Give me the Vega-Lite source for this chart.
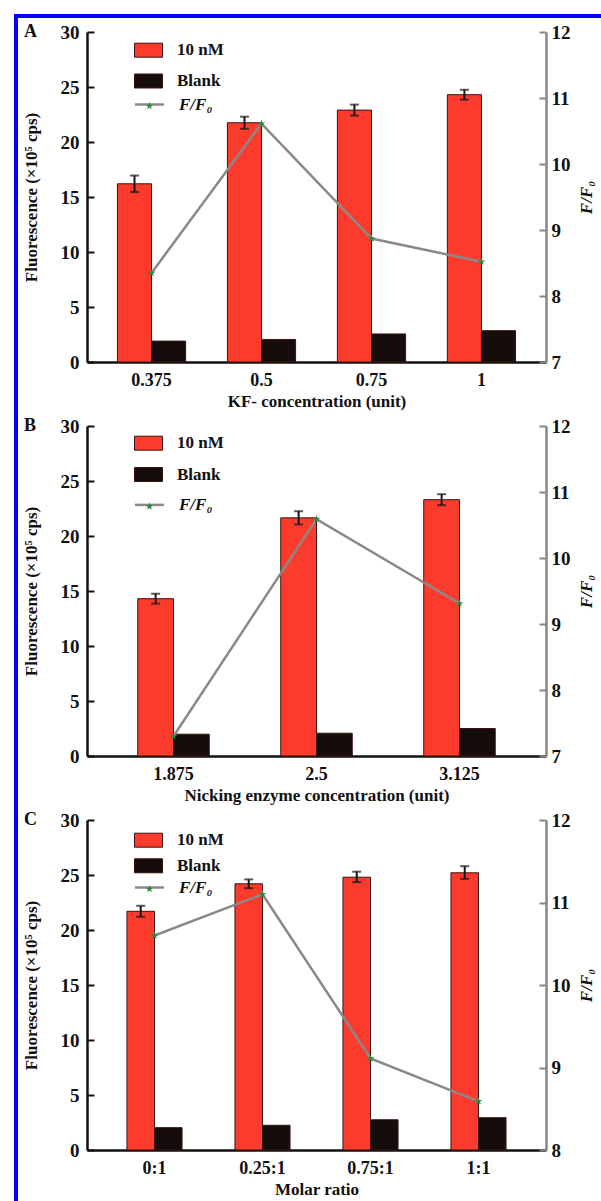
{
"$schema": "https://vega.github.io/schema/vega-lite/v6.json",
"background": "white",
"padding": {"left": 13, "top": 13, "right": 0, "bottom": 0},
"bounds": "flush",
"spacing": 0,
"config": {
 "view": {"stroke": null},
 "font": "Liberation Serif",
 "title": {"font": "Liberation Serif", "fontSize": 18, "fontWeight": "bold", "color": "#111", "anchor": "start", "frame": "group", "dx": -63, "dy": 22, "offset": 0, "baseline": "alphabetic"},
 "axis": {"labelFont": "Liberation Serif", "labelFontSize": 19, "labelFontWeight": "bold", "labelColor": "#111", "titleFont": "Liberation Serif", "titleFontSize": 17, "titleFontWeight": "bold", "titleColor": "#111", "grid": false, "domainWidth": 2.5, "tickWidth": 2, "labelFlush": false},
 "axisLeft": {"domainColor": "#111", "tickColor": "#111", "tickSize": -7, "labelPadding": 15, "titlePadding": 20},
 "axisRight": {"domainColor": "#8a8585", "tickColor": "#8a8585", "tickSize": -7, "labelPadding": 12, "titlePadding": 8},
 "axisBottom": {"domainColor": "#111", "ticks": false, "labelPadding": 9, "titlePadding": 4, "labelFontSize": 18},
 "legend": {"labelFont": "Liberation Serif", "labelFontSize": 17, "labelFontWeight": "bold", "labelColor": "#111", "padding": 0, "orient": "none", "title": null}
},
"vconcat": [
 {"width": 588, "height": 4, "view": {"fill": "#0000fe", "stroke": null}, "mark": {"type": "point", "opacity": 0}, "data": {"values": [{}]}, "encoding": {}},
 {"bounds": "flush", "spacing": 69, "hconcat": [
  {"width": 4, "height": 1184, "view": {"fill": "#0000fe", "stroke": null}, "mark": {"type": "point", "opacity": 0}, "data": {"values": [{}]}, "encoding": {}},
  {"bounds": "flush", "spacing": 13, "vconcat": [
   {"width": 459, "height": 1, "mark": {"type": "point", "opacity": 0}, "data": {"values": [{}]}, "encoding": {}},
   {"bounds": "flush", "spacing": 64,
    "resolve": {"scale": {"x": "independent", "y": "independent", "xOffset": "independent", "fill": "independent", "stroke": "independent", "shape": "independent"}, "legend": {"fill": "independent", "stroke": "independent", "shape": "independent"}},
    "vconcat": [
    {
     "width": 459, "height": 330,
     "title": {"text": "A"},
     "data": {"values": [
      {"cat": "0.375", "series": "10 nM", "value": 16.2, "lo": 15.45, "hi": 16.95},
      {"cat": "0.5", "series": "10 nM", "value": 21.75, "lo": 21.2, "hi": 22.3},
      {"cat": "0.75", "series": "10 nM", "value": 22.9, "lo": 22.4, "hi": 23.4},
      {"cat": "1", "series": "10 nM", "value": 24.3, "lo": 23.85, "hi": 24.75},
      {"cat": "0.375", "series": "Blank", "value": 1.9},
      {"cat": "0.5", "series": "Blank", "value": 2.05},
      {"cat": "0.75", "series": "Blank", "value": 2.55},
      {"cat": "1", "series": "Blank", "value": 2.85}
     ]},
     "encoding": {"x": {"field": "cat", "type": "nominal", "scale": {"domain": ["0.375", "0.5", "0.75", "1"], "paddingInner": 0.38, "paddingOuter": 0.277}, "axis": {"title": "KF- concentration (unit)", "labelAngle": 0}}},
     "layer": [
      {"mark": {"type": "bar", "stroke": "#3a140e", "strokeWidth": 1},
       "encoding": {
        "xOffset": {"field": "series", "type": "nominal", "scale": {"domain": ["10 nM", "Blank"], "paddingInner": 0, "paddingOuter": 0}},
        "y": {"field": "value", "type": "quantitative", "scale": {"domain": [0, 30]}, "axis": {"title": "Fluorescence (×10⁵ cps)", "values": [0, 5, 10, 15, 20, 25, 30]}},
        "fill": {"field": "series", "type": "nominal", "scale": {"domain": ["10 nM", "Blank"], "range": ["#fd3b2d", "#150d0c"]}, "legend": {"legendX": 47, "legendY": 3.7, "symbolType": "M-1,-0.5H1V0.5H-1Z", "symbolSize": 784, "symbolStrokeColor": "#3a140e", "symbolStrokeWidth": 1, "labelOffset": 14, "rowPadding": 6.8, "symbolOpacity": 1}}
       }},
      {"transform": [{"filter": "datum.series === '10 nM'"}], "mark": {"type": "rule", "color": "#151515", "strokeWidth": 2},
       "encoding": {"xOffset": {"field": "series", "type": "nominal", "scale": {"domain": ["10 nM", "Blank"], "paddingInner": 0, "paddingOuter": 0}}, "y": {"field": "lo", "type": "quantitative", "scale": {"domain": [0, 30]}, "axis": null}, "y2": {"field": "hi"}}},
      {"transform": [{"filter": "datum.series === '10 nM'"}], "mark": {"type": "tick", "color": "#151515", "thickness": 2, "size": 9, "orient": "horizontal"},
       "encoding": {"xOffset": {"field": "series", "type": "nominal", "scale": {"domain": ["10 nM", "Blank"], "paddingInner": 0, "paddingOuter": 0}}, "y": {"field": "hi", "type": "quantitative", "scale": {"domain": [0, 30]}, "axis": null}}},
      {"transform": [{"filter": "datum.series === '10 nM'"}], "mark": {"type": "tick", "color": "#151515", "thickness": 2, "size": 9, "orient": "horizontal"},
       "encoding": {"xOffset": {"field": "series", "type": "nominal", "scale": {"domain": ["10 nM", "Blank"], "paddingInner": 0, "paddingOuter": 0}}, "y": {"field": "lo", "type": "quantitative", "scale": {"domain": [0, 30]}, "axis": null}}},
      {"data": {"values": [{"cat": "0.375", "ff": 8.35}, {"cat": "0.5", "ff": 10.61}, {"cat": "0.75", "ff": 8.87}, {"cat": "1", "ff": 8.52}]},
       "mark": {"type": "line", "strokeWidth": 2.5},
       "encoding": {"y": {"field": "ff", "type": "quantitative", "scale": {"domain": [7, 12]}, "axis": {"orient": "right", "title": "F/F₀", "titleAngle": 270, "titleBaseline": "top", "titleFontStyle": "italic", "values": [7, 8, 9, 10, 11, 12]}},
        "stroke": {"datum": "F/F₀", "scale": {"range": ["#8d8888"]}, "legend": {"legendX": 46.5, "legendY": 56.5, "symbolType": "stroke", "symbolSize": 841, "symbolStrokeWidth": 2.5, "labelOffset": 13.5, "labelFontStyle": "italic"}}}},
      {"data": {"values": [{"cat": "0.375", "ff": 8.35}, {"cat": "0.5", "ff": 10.61}, {"cat": "0.75", "ff": 8.87}, {"cat": "1", "ff": 8.52}]},
       "mark": {"type": "point", "filled": true, "fill": "#2a8a3a", "opacity": 1, "strokeWidth": 0, "size": 64},
       "encoding": {"y": {"field": "ff", "type": "quantitative", "scale": {"domain": [7, 12]}, "axis": null},
        "shape": {"datum": "star", "scale": {"range": ["M0,-1L0.235,-0.324L0.951,-0.309L0.38,0.124L0.588,0.809L0,0.4L-0.588,0.809L-0.38,0.124L-0.951,-0.309L-0.235,-0.324Z"]}, "legend": {"legendX": 54, "legendY": 65.5, "symbolSize": 64, "symbolFillColor": "#2a8a3a", "symbolStrokeWidth": 0, "labelExpr": "''"}}}}
     ],
     "resolve": {"scale": {"y": "independent"}}
    },
    {
     "width": 459, "height": 330,
     "title": {"text": "B"},
     "data": {"values": [
      {"cat": "1.875", "series": "10 nM", "value": 14.3, "lo": 13.85, "hi": 14.75},
      {"cat": "2.5", "series": "10 nM", "value": 21.65, "lo": 21.05, "hi": 22.25},
      {"cat": "3.125", "series": "10 nM", "value": 23.3, "lo": 22.8, "hi": 23.8},
      {"cat": "1.875", "series": "Blank", "value": 1.98},
      {"cat": "2.5", "series": "Blank", "value": 2.07},
      {"cat": "3.125", "series": "Blank", "value": 2.5}
     ]},
     "encoding": {"x": {"field": "cat", "type": "nominal", "scale": {"domain": ["1.875", "2.5", "3.125"], "paddingInner": 0.5, "paddingOuter": 0.355}, "axis": {"title": "Nicking enzyme concentration (unit)", "labelAngle": 0}}},
     "layer": [
      {"mark": {"type": "bar", "stroke": "#3a140e", "strokeWidth": 1},
       "encoding": {
        "xOffset": {"field": "series", "type": "nominal", "scale": {"domain": ["10 nM", "Blank"], "paddingInner": 0, "paddingOuter": 0}},
        "y": {"field": "value", "type": "quantitative", "scale": {"domain": [0, 30]}, "axis": {"title": "Fluorescence (×10⁵ cps)", "values": [0, 5, 10, 15, 20, 25, 30]}},
        "fill": {"field": "series", "type": "nominal", "scale": {"domain": ["10 nM", "Blank"], "range": ["#fd3b2d", "#150d0c"]}, "legend": {"legendX": 47, "legendY": 2.7, "symbolType": "M-1,-0.5H1V0.5H-1Z", "symbolSize": 784, "symbolStrokeColor": "#3a140e", "symbolStrokeWidth": 1, "labelOffset": 14, "rowPadding": 7.3, "symbolOpacity": 1}}
       }},
      {"transform": [{"filter": "datum.series === '10 nM'"}], "mark": {"type": "rule", "color": "#151515", "strokeWidth": 2},
       "encoding": {"xOffset": {"field": "series", "type": "nominal", "scale": {"domain": ["10 nM", "Blank"], "paddingInner": 0, "paddingOuter": 0}}, "y": {"field": "lo", "type": "quantitative", "scale": {"domain": [0, 30]}, "axis": null}, "y2": {"field": "hi"}}},
      {"transform": [{"filter": "datum.series === '10 nM'"}], "mark": {"type": "tick", "color": "#151515", "thickness": 2, "size": 9, "orient": "horizontal"},
       "encoding": {"xOffset": {"field": "series", "type": "nominal", "scale": {"domain": ["10 nM", "Blank"], "paddingInner": 0, "paddingOuter": 0}}, "y": {"field": "hi", "type": "quantitative", "scale": {"domain": [0, 30]}, "axis": null}}},
      {"transform": [{"filter": "datum.series === '10 nM'"}], "mark": {"type": "tick", "color": "#151515", "thickness": 2, "size": 9, "orient": "horizontal"},
       "encoding": {"xOffset": {"field": "series", "type": "nominal", "scale": {"domain": ["10 nM", "Blank"], "paddingInner": 0, "paddingOuter": 0}}, "y": {"field": "lo", "type": "quantitative", "scale": {"domain": [0, 30]}, "axis": null}}},
      {"data": {"values": [{"cat": "1.875", "ff": 7.3}, {"cat": "2.5", "ff": 10.59}, {"cat": "3.125", "ff": 9.31}]},
       "mark": {"type": "line", "strokeWidth": 2.5},
       "encoding": {"y": {"field": "ff", "type": "quantitative", "scale": {"domain": [7, 12]}, "axis": {"orient": "right", "title": "F/F₀", "titleAngle": 270, "titleBaseline": "top", "titleFontStyle": "italic", "values": [7, 8, 9, 10, 11, 12]}},
        "stroke": {"datum": "F/F₀", "scale": {"range": ["#8d8888"]}, "legend": {"legendX": 46.5, "legendY": 62.9, "symbolType": "stroke", "symbolSize": 841, "symbolStrokeWidth": 2.5, "labelOffset": 13.5, "labelFontStyle": "italic"}}}},
      {"data": {"values": [{"cat": "1.875", "ff": 7.3}, {"cat": "2.5", "ff": 10.59}, {"cat": "3.125", "ff": 9.31}]},
       "mark": {"type": "point", "filled": true, "fill": "#2a8a3a", "opacity": 1, "strokeWidth": 0, "size": 64},
       "encoding": {"y": {"field": "ff", "type": "quantitative", "scale": {"domain": [7, 12]}, "axis": null},
        "shape": {"datum": "star", "scale": {"range": ["M0,-1L0.235,-0.324L0.951,-0.309L0.38,0.124L0.588,0.809L0,0.4L-0.588,0.809L-0.38,0.124L-0.951,-0.309L-0.235,-0.324Z"]}, "legend": {"legendX": 54, "legendY": 71.9, "symbolSize": 64, "symbolFillColor": "#2a8a3a", "symbolStrokeWidth": 0, "labelExpr": "''"}}}}
     ],
     "resolve": {"scale": {"y": "independent"}}
    },
    {
     "width": 459, "height": 330,
     "title": {"text": "C"},
     "data": {"values": [
      {"cat": "0:1", "series": "10 nM", "value": 21.7, "lo": 21.2, "hi": 22.2},
      {"cat": "0.25:1", "series": "10 nM", "value": 24.2, "lo": 23.8, "hi": 24.6},
      {"cat": "0.75:1", "series": "10 nM", "value": 24.8, "lo": 24.35, "hi": 25.3},
      {"cat": "1:1", "series": "10 nM", "value": 25.2, "lo": 24.65, "hi": 25.8},
      {"cat": "0:1", "series": "Blank", "value": 2.03},
      {"cat": "0.25:1", "series": "Blank", "value": 2.25},
      {"cat": "0.75:1", "series": "Blank", "value": 2.75},
      {"cat": "1:1", "series": "Blank", "value": 2.94}
     ]},
     "encoding": {"x": {"field": "cat", "type": "nominal", "scale": {"domain": ["0:1", "0.25:1", "0.75:1", "1:1"], "paddingInner": 0.49, "paddingOuter": 0.37}, "axis": {"title": "Molar ratio", "labelAngle": 0}}},
     "layer": [
      {"mark": {"type": "bar", "stroke": "#3a140e", "strokeWidth": 1},
       "encoding": {
        "xOffset": {"field": "series", "type": "nominal", "scale": {"domain": ["10 nM", "Blank"], "paddingInner": 0, "paddingOuter": 0}},
        "y": {"field": "value", "type": "quantitative", "scale": {"domain": [0, 30]}, "axis": {"title": "Fluorescence (×10⁵ cps)", "values": [0, 5, 10, 15, 20, 25, 30]}},
        "fill": {"field": "series", "type": "nominal", "scale": {"domain": ["10 nM", "Blank"], "range": ["#fd3b2d", "#150d0c"]}, "legend": {"legendX": 47, "legendY": 5.7, "symbolType": "M-1,-0.5H1V0.5H-1Z", "symbolSize": 784, "symbolStrokeColor": "#3a140e", "symbolStrokeWidth": 1, "labelOffset": 14, "rowPadding": 1.6, "symbolOpacity": 1}}
       }},
      {"transform": [{"filter": "datum.series === '10 nM'"}], "mark": {"type": "rule", "color": "#151515", "strokeWidth": 2},
       "encoding": {"xOffset": {"field": "series", "type": "nominal", "scale": {"domain": ["10 nM", "Blank"], "paddingInner": 0, "paddingOuter": 0}}, "y": {"field": "lo", "type": "quantitative", "scale": {"domain": [0, 30]}, "axis": null}, "y2": {"field": "hi"}}},
      {"transform": [{"filter": "datum.series === '10 nM'"}], "mark": {"type": "tick", "color": "#151515", "thickness": 2, "size": 9, "orient": "horizontal"},
       "encoding": {"xOffset": {"field": "series", "type": "nominal", "scale": {"domain": ["10 nM", "Blank"], "paddingInner": 0, "paddingOuter": 0}}, "y": {"field": "hi", "type": "quantitative", "scale": {"domain": [0, 30]}, "axis": null}}},
      {"transform": [{"filter": "datum.series === '10 nM'"}], "mark": {"type": "tick", "color": "#151515", "thickness": 2, "size": 9, "orient": "horizontal"},
       "encoding": {"xOffset": {"field": "series", "type": "nominal", "scale": {"domain": ["10 nM", "Blank"], "paddingInner": 0, "paddingOuter": 0}}, "y": {"field": "lo", "type": "quantitative", "scale": {"domain": [0, 30]}, "axis": null}}},
      {"data": {"values": [{"cat": "0:1", "ff": 10.6}, {"cat": "0.25:1", "ff": 11.1}, {"cat": "0.75:1", "ff": 9.11}, {"cat": "1:1", "ff": 8.59}]},
       "mark": {"type": "line", "strokeWidth": 2.5},
       "encoding": {"y": {"field": "ff", "type": "quantitative", "scale": {"domain": [8, 12]}, "axis": {"orient": "right", "title": "F/F₀", "titleAngle": 270, "titleBaseline": "top", "titleFontStyle": "italic", "values": [8, 9, 10, 11, 12]}},
        "stroke": {"datum": "F/F₀", "scale": {"range": ["#8d8888"]}, "legend": {"legendX": 46.5, "legendY": 51.5, "symbolType": "stroke", "symbolSize": 841, "symbolStrokeWidth": 2.5, "labelOffset": 13.5, "labelFontStyle": "italic"}}}},
      {"data": {"values": [{"cat": "0:1", "ff": 10.6}, {"cat": "0.25:1", "ff": 11.1}, {"cat": "0.75:1", "ff": 9.11}, {"cat": "1:1", "ff": 8.59}]},
       "mark": {"type": "point", "filled": true, "fill": "#2a8a3a", "opacity": 1, "strokeWidth": 0, "size": 64},
       "encoding": {"y": {"field": "ff", "type": "quantitative", "scale": {"domain": [8, 12]}, "axis": null},
        "shape": {"datum": "star", "scale": {"range": ["M0,-1L0.235,-0.324L0.951,-0.309L0.38,0.124L0.588,0.809L0,0.4L-0.588,0.809L-0.38,0.124L-0.951,-0.309L-0.235,-0.324Z"]}, "legend": {"legendX": 54, "legendY": 60.5, "symbolSize": 64, "symbolFillColor": "#2a8a3a", "symbolStrokeWidth": 0, "labelExpr": "''"}}}}
     ],
     "resolve": {"scale": {"y": "independent"}}
    }
   ]}
  ]}
 ]}
]
}
